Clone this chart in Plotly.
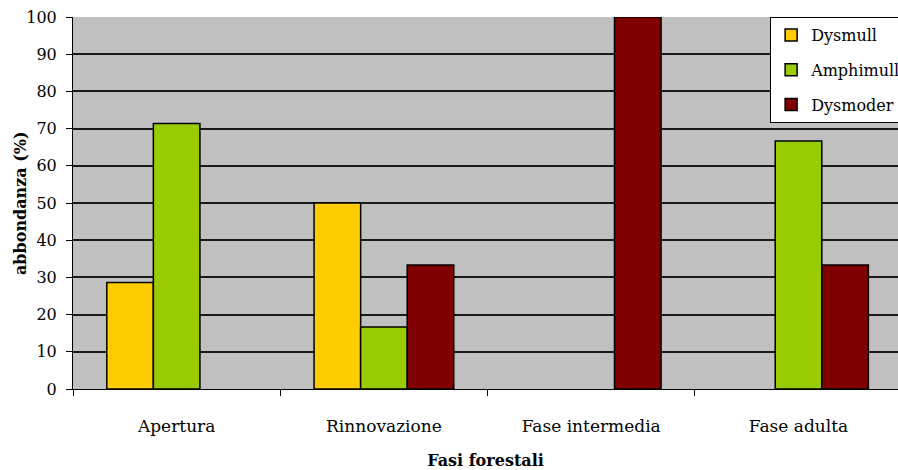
import plotly.graph_objects as go

# Forest phases (x categories) and humus-form abundances (%)
fasi = ["Apertura", "Rinnovazione", "Fase intermedia", "Fase adulta"]
dysmull = [28.6, 50.0, None, None]
amphimull = [71.4, 16.7, None, 66.7]
dysmoder = [None, 33.3, 100.0, 33.3]

series = [
    ("Dysmull", dysmull, "#FFCC00"),
    ("Amphimull", amphimull, "#99CC00"),
    ("Dysmoder", dysmoder, "#800000"),
]

SERIF = "DejaVu Serif"

fig = go.Figure()
for name, vals, col in series:
    fig.add_trace(go.Bar(
        name=name, x=fasi, y=vals,
        marker=dict(color=col, line=dict(color="#000000", width=1.5)),
        legendgroup=name,
    ))

fig.update_layout(
    width=898, height=470,
    margin=dict(l=73, r=0, t=17, b=81, autoexpand=False),
    paper_bgcolor="white",
    plot_bgcolor="#C0C0C0",
    barmode="group",
    bargap=0.326,
    bargroupgap=0,
    font=dict(family=SERIF, size=16, color="#000000"),
    legend=dict(
        x=0.845, y=1.0, xanchor="left", yanchor="top",
        bgcolor="white", bordercolor="#000000", borderwidth=1,
        font=dict(family=SERIF, size=16, color="#000000"),
        tracegroupgap=11,
        itemwidth=30,
    ),
    showlegend=True,
    annotations=[dict(
        text="<b>abbondanza (%)</b>",
        xref="paper", yref="paper", x=-0.0642, y=0.5,
        xanchor="center", yanchor="middle", textangle=-90,
        showarrow=False, font=dict(family=SERIF, size=16, color="#000000"),
    )],
)

fig.update_xaxes(
    range=[-0.5, 3.48],
    showline=True, linecolor="#000000", linewidth=1,
    ticks="outside", tickson="boundaries", ticklen=6, tickcolor="#000000",
    ticklabelstandoff=22,
    tickfont=dict(family=SERIF, size=17),
    title=dict(text="<b>Fasi forestali</b>", font=dict(family=SERIF, size=16), standoff=21),
    showgrid=False,
)
fig.update_yaxes(
    range=[0, 100], dtick=10,
    showline=True, linecolor="#000000", linewidth=1,
    ticks="outside", ticklen=6, tickcolor="#000000",
    ticklabelstandoff=6,
    showgrid=True, gridcolor="#1A1A1A", gridwidth=1.5,
    tickfont=dict(family=SERIF, size=16),
    zeroline=False,
)

fig.write_html("out.html")
